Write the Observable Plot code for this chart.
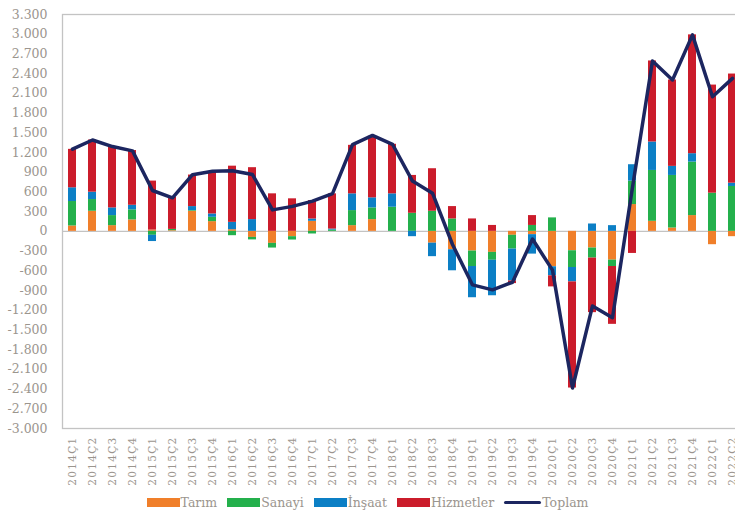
<!DOCTYPE html>
<html><head><meta charset="utf-8">
<script src="https://cdn.jsdelivr.net/npm/d3@7"></script>
<script src="https://cdn.jsdelivr.net/npm/@observablehq/plot@0.6"></script>
<style>
html,body{margin:0;padding:0;background:#fff;overflow:hidden;width:735px;height:514px}
#chart{width:735px;height:492px;overflow:hidden}
#chart svg{max-width:none !important}
#chart svg g[aria-label="x-axis tick label"]{letter-spacing:1.3px}
#legend{display:flex;justify-content:center;align-items:center;height:20px;font-family:"DejaVu Serif",serif;font-size:12.5px;color:#9b958e;padding-left:0px}
#legend .item{display:flex;align-items:center;margin:0 5px}
#legend .sw{display:inline-block;width:33px;height:9px;margin-right:1px}
#legend .ln{display:inline-block;width:37px;height:3px;margin-right:1px;border-radius:2px}
</style></head>
<body>
<div id="chart"></div>
<div id="legend"></div>
<script>
const quarters = ["2014Ç1","2014Ç2","2014Ç3","2014Ç4","2015Ç1","2015Ç2","2015Ç3","2015Ç4",
"2016Ç1","2016Ç2","2016Ç3","2016Ç4","2017Ç1","2017Ç2","2017Ç3","2017Ç4",
"2018Ç1","2018Ç2","2018Ç3","2018Ç4","2019Ç1","2019Ç2","2019Ç3","2019Ç4",
"2020Ç1","2020Ç2","2020Ç3","2020Ç4","2021Ç1","2021Ç2","2021Ç3","2021Ç4","2022Ç1","2022Ç2"];
const seriesNames = ["Tarım","Sanayi","İnşaat","Hizmetler"];
const tarim     = [82,306,87,174,20,10,306,148,25,-92,-183,-81,153,0,87,179,0,0,-180,-280,-300,-320,-60,-50,-539,-295,-254,-438,408,153,51,240,-203,-81];
const sanayi    = [372,178,153,153,-60,20,10,66,-66,-38,-71,-51,-40,20,229,178,367,275,306,189,-235,-120,-210,90,205,-255,-153,-97,356,774,800,814,581,683];
const insaat    = [209,112,117,70,-95,0,61,51,112,179,0,0,35,15,255,153,204,-81,-205,-320,-475,-540,-485,-296,-138,-219,112,87,250,433,138,128,0,50];
const hizmetler = [585,794,933,833,745,490,480,640,855,790,571,495,281,536,738,937,754,576,647,188,189,90,-40,150,-168,-1615,-830,-880,-336,1233,1314,1808,1645,1661];
const toplam    = [1250,1390,1290,1225,622,510,862,915,922,865,327,380,460,575,1320,1460,1325,765,581,-200,-815,-890,-775,-117,-590,-2384,-1135,-1314,670,2593,2303,2990,2048,2328];
const yTicks = [-3000,-2700,-2400,-2100,-1800,-1500,-1200,-900,-600,-300,0,300,600,900,1200,1500,1800,2100,2400,2700,3000,3300];
const colors = ["#F07F2A","#24B04C","#0C7FC5","#CB1C2B"];
const lineColor = "#1C2660";
const textColor = "#9b958e";

const values = [tarim, sanayi, insaat, hizmetler];
const rows = [];
quarters.forEach((q, i) => seriesNames.forEach((s, j) => rows.push({q, s, v: values[j][i]})));
const totals = quarters.map((q, i) => ({q, v: toplam[i]}));

const loc = d3.formatLocale({decimal: ",", thousands: ".", grouping: [3], currency: ["", ""], minus: "-"});
const fmt = loc.format(",");

const chart = Plot.plot({
  width: 750, height: 492,
  marginLeft: 62, marginRight: 8, marginTop: 14, marginBottom: 64,
  style: {fontFamily: "'DejaVu Serif', serif", color: textColor, background: "#fff", maxWidth: "none"},
  x: {domain: quarters, paddingInner: 0.58, paddingOuter: 0.29, label: null},
  y: {domain: [-3000, 3300], label: null},
  color: {domain: seriesNames, range: colors},
  marks: [
    Plot.axisY({ticks: yTicks, tickFormat: fmt, tickSize: 0, tickPadding: 15, fontSize: 12.5, label: null}),
    Plot.axisX({tickRotate: -90, tickSize: 0, tickPadding: 8, fontSize: 10.5, label: null}),
    Plot.ruleY([0], {stroke: "#c3c3c3", strokeWidth: 1.3}),
    Plot.barY(rows, {x: "q", y: "v", fill: "s"}),
    Plot.lineY(totals, {x: "q", y: "v", stroke: lineColor, strokeWidth: 3.5, strokeLinejoin: "round"}),
    Plot.frame({stroke: "#c3c3c3", strokeWidth: 1.3})
  ]
});
document.getElementById("chart").appendChild(chart);

const legend = document.getElementById("legend");
seriesNames.forEach((s, j) => {
  const it = document.createElement("div"); it.className = "item";
  it.innerHTML = `<span class="sw" style="background:${colors[j]}"></span><span>${s}</span>`;
  legend.appendChild(it);
});
const it = document.createElement("div"); it.className = "item";
it.innerHTML = `<span class="ln" style="background:${lineColor}"></span><span>Toplam</span>`;
legend.appendChild(it);
</script>
</body></html>
